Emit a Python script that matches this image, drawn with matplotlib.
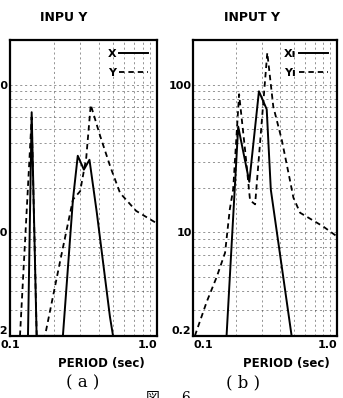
import matplotlib.pyplot as plt
from matplotlib.ticker import FixedLocator, NullFormatter

# スペクトル (a)
a_x_per = [0.1326, 0.1405, 0.1518, 0.229, 0.268, 0.289, 0.318, 0.347, 0.389, 0.478, 0.502]
a_x_amp = [2, 65, 2, 2, 16.7, 33, 26.6, 31, 13.7, 2.7, 2]
a_y_per = [0.117, 0.1405, 0.152, 0.173, 0.22, 0.268, 0.30, 0.33, 0.354, 0.41, 0.48, 0.56, 0.72, 1.0]
a_y_amp = [2, 60, 2, 2, 6.5, 16.7, 19, 32, 73, 45, 28, 18.5, 14, 11.5]

# スペクトル (b)
b_x_per = [0.171, 0.206, 0.246, 0.287, 0.325, 0.347, 0.484]
b_x_amp = [2, 52, 22, 90, 68, 19.5, 2]
b_y_per = [0.103, 0.1245, 0.146, 0.167, 0.18, 0.19, 0.209, 0.23, 0.249, 0.27, 0.328,
           0.361, 0.413, 0.471, 0.498, 0.554, 0.80, 1.0]
b_y_amp = [2, 3.4, 5.0, 7.3, 14.3, 19.5, 86, 36, 16.5, 15.5, 164,
           71, 42.5, 22.6, 17.2, 13.6, 11, 9.4]

titles = ['INPU Y', 'INPUT Y']
captions = ['( a )', '( b )']
legends = [('X', 'Y'), ('X\u0131', 'Y\u0131')]
yticks = [2, 10, 100]
ylabels = ['0.2', '10', '100']

fig = plt.figure(figsize=(3.43, 3.98), dpi=100)
ax_a = fig.add_axes([0.029, 0.156, 0.429, 0.7435])
ax_b = fig.add_axes([0.5627, 0.156, 0.4198, 0.7435])

panels = [(ax_a, a_x_per, a_x_amp, a_y_per, a_y_amp),
          (ax_b, b_x_per, b_x_amp, b_y_per, b_y_amp)]

for i, (ax, xp, xa, yp, ya) in enumerate(panels):
    ax.plot(xp, xa, color='black', lw=1.4, label=legends[i][0])
    ax.plot(yp, ya, color='black', lw=1.3, ls=(0, (3, 2.2)), label=legends[i][1])
    ax.set_xscale('log')
    ax.set_yscale('log')
    ax.set_xlim(0.1, 1.0)
    ax.set_ylim(2, 200)
    ax.xaxis.set_major_locator(FixedLocator([0.1, 1.0]))
    ax.xaxis.set_minor_locator(FixedLocator([0.2, 0.3, 0.4, 0.5, 0.6, 0.7, 0.8, 0.9]))
    ax.yaxis.set_major_locator(FixedLocator(yticks))
    ax.yaxis.set_minor_locator(FixedLocator([3, 4, 5, 6, 7, 8, 9, 20, 30, 40, 50, 60, 70, 80, 90]))
    ax.xaxis.set_minor_formatter(NullFormatter())
    ax.yaxis.set_minor_formatter(NullFormatter())
    xl = ax.set_xticklabels(['0.1', '1.0'], fontsize=8, fontweight='bold')
    xl[0].set_ha('center' if i == 0 else 'left')
    xl[1].set_ha('right')
    yl = ax.set_yticklabels(ylabels, fontsize=8, fontweight='bold')
    yl[0].set_va('bottom')
    ax.tick_params(which='both', length=0, pad=1)
    ax.tick_params(axis='x', pad=3)
    ax.grid(True, which='both', color='#444444', lw=0.5, ls=(0, (3, 4)), alpha=0.8)
    for s in ax.spines.values():
        s.set_linewidth(1.6)
    ax.legend(loc='upper right', frameon=False, markerfirst=False,
              handlelength=2.6, labelspacing=0.8, handletextpad=0.3,
              borderaxespad=0.4, prop={'weight': 'bold', 'size': 8})
    ax.set_xlabel('PERIOD (sec)', fontsize=8.5, fontweight='bold')
    ax.xaxis.set_label_coords(0.62 if i == 0 else 0.65, -0.072)

fig.text(0.187, 0.957, titles[0], ha='center', va='center', fontsize=9, fontweight='bold')
fig.text(0.735, 0.957, titles[1], ha='center', va='center', fontsize=9, fontweight='bold')
fig.text(0.24, 0.038, captions[0], ha='center', va='center', fontsize=12, family='DejaVu Serif')
fig.text(0.71, 0.038, captions[1], ha='center', va='center', fontsize=12, family='DejaVu Serif')
fig.text(0.445, 0.0, '図', ha='center', va='center', fontsize=10,
         family=['Noto Sans CJK JP', 'DejaVu Sans'])
fig.text(0.54, 0.0, '6', ha='center', va='center', fontsize=10, family='DejaVu Serif')

fig.savefig('out.png', dpi=100)
